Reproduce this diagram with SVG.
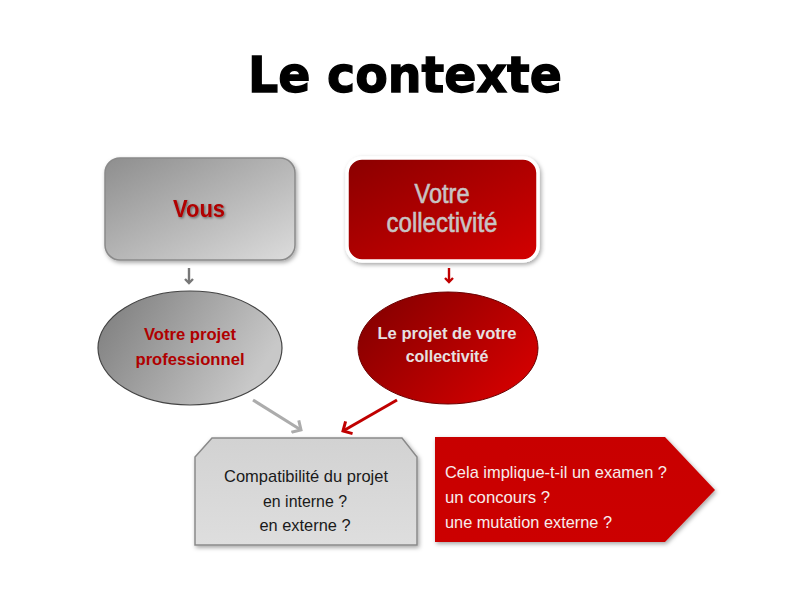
<svg xmlns="http://www.w3.org/2000/svg" width="809" height="607" viewBox="0 0 809 607">
<defs>
<linearGradient id="gGray" x1="0" y1="0" x2="1" y2="1">
<stop offset="0" stop-color="#8e8e8e"/><stop offset="1" stop-color="#dcdcdc"/>
</linearGradient>
<linearGradient id="gRed" x1="0" y1="0" x2="1" y2="1">
<stop offset="0" stop-color="#8a0000"/><stop offset="1" stop-color="#d40000"/>
</linearGradient>
<linearGradient id="gEllGray" x1="0" y1="0" x2="1" y2="0.4">
<stop offset="0" stop-color="#7a7a7a"/><stop offset="1" stop-color="#c8c8c8"/>
</linearGradient>
<linearGradient id="gEllRed" x1="0" y1="0" x2="1" y2="0.6">
<stop offset="0" stop-color="#7e0000"/><stop offset="1" stop-color="#d00000"/>
</linearGradient>
<linearGradient id="gCompat" x1="0" y1="0" x2="0" y2="1">
<stop offset="0" stop-color="#d2d2d2"/><stop offset="1" stop-color="#dedede"/>
</linearGradient>
<linearGradient id="gArrow" x1="0" y1="0" x2="0" y2="1">
<stop offset="0" stop-color="#c80000"/><stop offset="1" stop-color="#cc0000"/>
</linearGradient>
<filter id="sh" x="-10%" y="-10%" width="125%" height="130%">
<feDropShadow dx="1.5" dy="2" stdDeviation="2" flood-color="#000" flood-opacity="0.35"/>
</filter>
<filter id="tsh" x="-10%" y="-10%" width="130%" height="140%">
<feDropShadow dx="1.2" dy="1.2" stdDeviation="0.8" flood-color="#000" flood-opacity="0.45"/>
</filter>
<marker id="mGraySmall" markerWidth="10" markerHeight="10" refX="5" refY="5" orient="auto" markerUnits="userSpaceOnUse">
<polyline points="1,1 5,5 1,9" fill="none" stroke="#777" stroke-width="2.4"/>
</marker>
<marker id="mRedSmall" markerWidth="10" markerHeight="10" refX="5" refY="5" orient="auto" markerUnits="userSpaceOnUse">
<polyline points="1,1 5,5 1,9" fill="none" stroke="#c00000" stroke-width="2.4"/>
</marker>
<marker id="mGray" markerWidth="16" markerHeight="16" refX="8" refY="8" orient="auto" markerUnits="userSpaceOnUse">
<polyline points="1,1 8,8 1,15" fill="none" stroke="#acacac" stroke-width="3"/>
</marker>
<marker id="mRed" markerWidth="16" markerHeight="16" refX="8" refY="8" orient="auto" markerUnits="userSpaceOnUse">
<polyline points="1,1 8,8 1,15" fill="none" stroke="#c00000" stroke-width="3"/>
</marker>
</defs>
<style>
.sans{font-family:"Liberation Sans",Arial,sans-serif}
.title{font-family:"DejaVu Sans",sans-serif;font-weight:bold;font-size:50px;fill:#000;stroke:#000;stroke-width:1.3px}
.redbold{fill:#b00000;font-weight:bold}
.lightbold{fill:#e6e0e0;font-weight:bold}
</style>
<rect width="809" height="607" fill="#ffffff"/>
<text class="title" x="405" y="92" text-anchor="middle" textLength="314" lengthAdjust="spacingAndGlyphs">Le contexte</text>

<g id="node-vous">
<rect x="105" y="158" width="190" height="102" rx="15" fill="url(#gGray)" stroke="#8a8a8a" stroke-width="1.5" filter="url(#sh)"/>
<text class="sans redbold" x="199" y="217" font-size="24" text-anchor="middle" textLength="52" lengthAdjust="spacingAndGlyphs" filter="url(#tsh)">Vous</text>
</g>

<g id="node-collectivite">
<rect x="347" y="158" width="191" height="103" rx="15" fill="url(#gRed)" stroke="#ffffff" stroke-width="3.5" filter="url(#sh)"/>
<text class="sans" x="442" y="203" font-size="27" fill="#c8c4c4" text-anchor="middle" textLength="55" lengthAdjust="spacingAndGlyphs" stroke="#c8c4c4" stroke-width="0.6">Votre</text>
<text class="sans" x="442" y="232" font-size="27" fill="#c8c4c4" text-anchor="middle" textLength="111" lengthAdjust="spacingAndGlyphs" stroke="#c8c4c4" stroke-width="0.6">collectivité</text>
</g>

<g id="node-projet-pro">
<ellipse cx="190" cy="348" rx="92" ry="57" fill="url(#gEllGray)" stroke="#444" stroke-width="1.2"/>
<text class="sans redbold" x="190" y="340" font-size="17" text-anchor="middle" textLength="92" lengthAdjust="spacingAndGlyphs">Votre projet</text>
<text class="sans redbold" x="190" y="365" font-size="17" text-anchor="middle" textLength="109" lengthAdjust="spacingAndGlyphs">professionnel</text>
</g>

<g id="node-projet-collectivite">
<ellipse cx="448" cy="348" rx="90" ry="56" fill="url(#gEllRed)" stroke="#6a0000" stroke-width="1"/>
<text class="sans lightbold" x="447" y="339" font-size="16" text-anchor="middle" textLength="139" lengthAdjust="spacingAndGlyphs">Le projet de votre</text>
<text class="sans lightbold" x="447" y="362" font-size="16" text-anchor="middle">collectivité</text>
</g>

<g id="node-compatibilite">
<polygon points="212,438 402,438 417,457 417,545 195,545 195,457" fill="url(#gCompat)" stroke="#8a8a8a" stroke-width="1.5" filter="url(#sh)"/>
<text class="sans" x="306" y="482" font-size="17" fill="#1a1a1a" text-anchor="middle" textLength="164" lengthAdjust="spacingAndGlyphs">Compatibilité du projet</text>
<text class="sans" x="305" y="507" font-size="17" fill="#1a1a1a" text-anchor="middle" textLength="84" lengthAdjust="spacingAndGlyphs">en interne ?</text>
<text class="sans" x="305" y="531" font-size="17" fill="#1a1a1a" text-anchor="middle" textLength="91" lengthAdjust="spacingAndGlyphs">en externe ?</text>
</g>

<g id="node-implique">
<polygon points="435,437 665,437 715,490 665,542 435,542" fill="url(#gArrow)" filter="url(#sh)"/>
<text class="sans" x="445" y="478" font-size="17" fill="#f7ecec" textLength="222" lengthAdjust="spacingAndGlyphs">Cela implique-t-il un examen ?</text>
<text class="sans" x="445" y="503" font-size="17" fill="#f7ecec" textLength="105" lengthAdjust="spacingAndGlyphs">un concours ?</text>
<text class="sans" x="445" y="528" font-size="17" fill="#f7ecec" textLength="167" lengthAdjust="spacingAndGlyphs">une mutation externe ?</text>
</g>

<g id="connectors" fill="none">
<line x1="189" y1="268" x2="189" y2="283" stroke="#777" stroke-width="2.4" marker-end="url(#mGraySmall)"/>
<line x1="449" y1="268" x2="449" y2="282" stroke="#c00000" stroke-width="2.4" marker-end="url(#mRedSmall)"/>
<line x1="253" y1="400" x2="301" y2="430" stroke="#acacac" stroke-width="3" marker-end="url(#mGray)"/>
<line x1="397" y1="400" x2="343" y2="431" stroke="#c00000" stroke-width="3" marker-end="url(#mRed)"/>
</g>
</svg>
